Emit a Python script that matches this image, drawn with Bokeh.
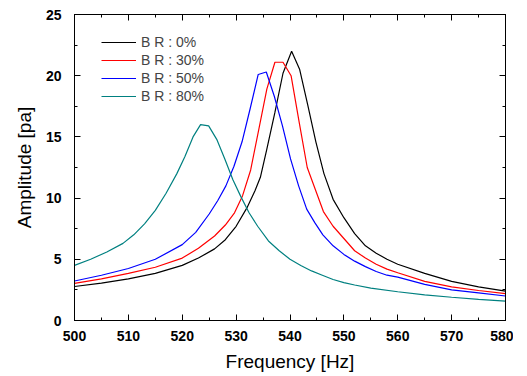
from bokeh.plotting import figure
from bokeh.models import (Range1d, LinearAxis, Legend, LegendItem, SingleIntervalTicker,
                          CustomLabelingPolicy)
from bokeh.embed import file_html
from bokeh.resources import INLINE

# ---- data ----
bk_f = [500, 505, 510, 515, 520, 523, 526, 528, 530, 532, 533.5, 534.5, 535.7, 537.2, 538.7, 540.3,
        541.8, 543.3, 544.8, 546.3, 548, 550, 552, 554, 556, 558, 560, 565, 570, 575, 580]
bk_a = [2.78, 3.05, 3.4, 3.85, 4.5, 5.1, 5.85, 6.6, 7.7, 9.2, 10.6, 11.7, 14.0, 17.0, 20.2, 22.0,
        20.5, 17.6, 14.6, 12.0, 9.9, 8.4, 7.1, 6.1, 5.5, 5.0, 4.6, 3.85, 3.2, 2.75, 2.4]

rd_f = [500, 505, 510, 515, 520, 523, 526, 528, 529.7, 531.2, 532.7, 534.2, 535.7, 537.2, 538.7,
        540.2, 541.7, 543.2, 544.7, 546.2, 548, 550, 552, 554, 556, 558, 560, 565, 570, 575, 580]
rd_a = [3.04, 3.4, 3.85, 4.35, 5.1, 5.9, 6.9, 7.8, 8.8, 10.2, 12.3, 15.6, 18.9, 21.1, 21.1,
        20.0, 16.2, 12.5, 10.7, 8.9, 7.7, 6.7, 5.7, 5.1, 4.6, 4.2, 3.9, 3.2, 2.75, 2.45, 2.2]

bl_f = [500, 505, 510, 515, 520, 522.5, 525, 526.6, 528.1, 529.6, 531.1, 532.6, 534.1, 535.6,
        537.1, 538.6, 540.1, 541.6, 543.1, 544.6, 546.1, 548, 550, 552, 554, 556, 558, 560,
        565, 570, 575, 580]
bl_a = [3.23, 3.7, 4.25, 5.0, 6.2, 7.2, 8.7, 9.8, 11.0, 12.6, 14.6, 17.3, 20.1, 20.3,
        18.3, 15.9, 13.2, 11.0, 9.1, 8.0, 7.0, 6.1, 5.4, 4.85, 4.4, 4.0, 3.7, 3.55,
        2.95, 2.5, 2.25, 2.0]

tl_f = [500, 503, 506, 509, 511, 513, 515, 517, 519, 520.5, 522, 523.4, 524.9, 526.4, 527.9,
        529.4, 530.9, 532.4, 534, 536, 538, 540, 542, 544, 546, 548, 550, 552, 555, 560,
        565, 570, 575, 580]
tl_a = [4.5, 5.0, 5.6, 6.3, 7.0, 7.9, 9.0, 10.4, 12.0, 13.4, 15.0, 16.0, 15.9, 14.8, 13.2,
        11.5, 10.1, 8.8, 7.7, 6.5, 5.7, 5.0, 4.5, 4.05, 3.7, 3.35, 3.1, 2.9, 2.65, 2.35,
        2.1, 1.9, 1.72, 1.58]

labels = ["B R : 0%", "B R : 30%", "B R : 50%", "B R : 80%"]
colors = ["#000000", "#ff0000", "#0000ff", "#008080"]

FONT = "Liberation Sans"

p = figure(width=513, height=376, x_range=Range1d(500, 580), y_range=Range1d(0, 25),
           output_backend="svg", toolbar_location=None,
           min_border_left=74, min_border_right=8, min_border_top=14, min_border_bottom=56,
           x_axis_label="Frequency [Hz]", y_axis_label="Amplitude [pa]")
p.xgrid.visible = False
p.ygrid.visible = False
p.outline_line_color = "black"
p.outline_line_width = 1
p.background_fill_color = "white"
p.border_fill_color = "white"

hide_all = CustomLabelingPolicy(code="""
for (const i of indices) { indices.unset(i) }
return indices
""")

def style(ax, ticker, labels_on=True):
    ax.ticker = ticker
    ax.axis_line_color = "black"
    ax.major_tick_in = 6
    ax.major_tick_out = 0
    ax.minor_tick_in = 3
    ax.minor_tick_out = 0
    ax.major_tick_line_color = "black"
    ax.minor_tick_line_color = "black"
    if labels_on:
        ax.major_label_text_font = FONT
        ax.major_label_text_font_style = "bold"
        ax.major_label_text_font_size = "14px"
        ax.major_label_text_color = "black"
        ax.axis_label_text_font = FONT
        ax.axis_label_text_font_style = "normal"
        ax.axis_label_text_font_size = "19px"
        ax.axis_label_text_color = "black"
    else:
        ax.major_label_policy = hide_all
        ax.major_label_text_font_size = "1px"
        ax.major_label_standoff = 0

xt = lambda: SingleIntervalTicker(interval=10, num_minor_ticks=2)
yt = lambda: SingleIntervalTicker(interval=5, num_minor_ticks=2)

style(p.xaxis[0], xt())
style(p.yaxis[0], yt())
p.xaxis[0].major_label_standoff = 10
p.xaxis[0].axis_label_standoff = 7
p.yaxis[0].major_label_standoff = 13
p.yaxis[0].axis_label_standoff = 8

top = LinearAxis()
style(top, xt(), labels_on=False)
p.add_layout(top, "above")
right = LinearAxis()
style(right, yt(), labels_on=False)
p.add_layout(right, "right")

renderers = []
for f, a, c in zip([bk_f, rd_f, bl_f, tl_f], [bk_a, rd_a, bl_a, tl_a], colors):
    renderers.append(p.line(f, a, line_color=c, line_width=1.2))

items = [LegendItem(label=l, renderers=[r]) for l, r in zip(labels, renderers)]
legend = Legend(items=items, location=(27, 215.5), glyph_width=35, glyph_height=18,
                label_height=18, label_standoff=5, spacing=0, padding=0, margin=0,
                border_line_color=None, background_fill_alpha=0,
                label_text_font=FONT, label_text_font_size="14px")
p.add_layout(legend)

open("out.html", "w").write(file_html(p, INLINE))
